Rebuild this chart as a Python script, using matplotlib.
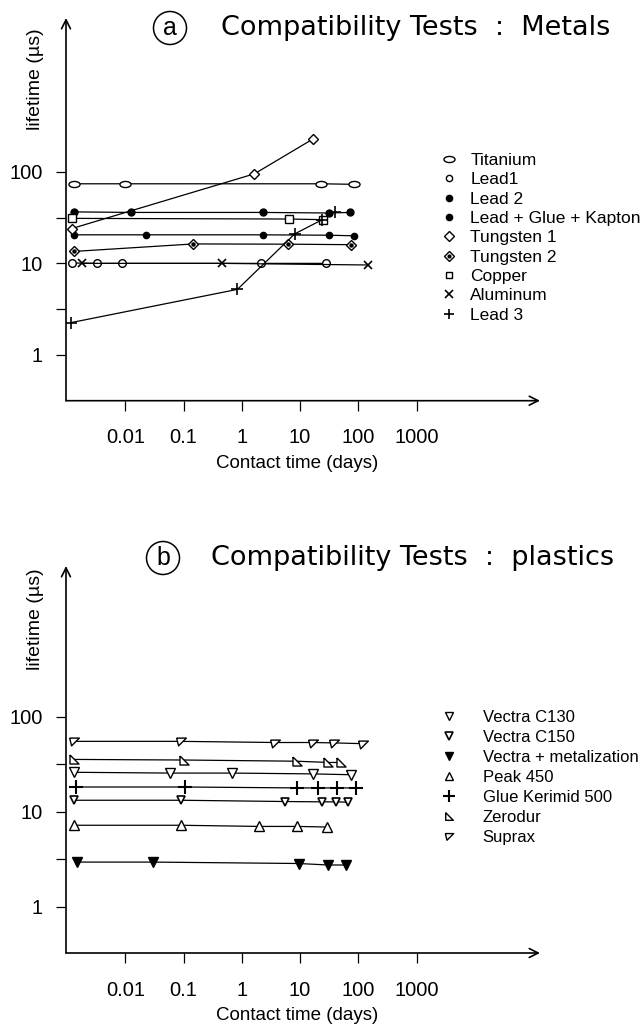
import matplotlib
matplotlib.use("Agg")
import matplotlib.pyplot as plt
from matplotlib.lines import Line2D
from matplotlib.markers import MarkerStyle
from matplotlib.transforms import Affine2D
from matplotlib.ticker import FixedLocator, NullLocator, FixedFormatter

plt.rcParams['font.family'] = ['Liberation Sans', 'DejaVu Sans']

# ---------------- data: panel (a) metals ----------------
titanium_x = [0.0013, 0.0098, 23, 85]
titanium_y = [74, 74, 74, 73]
lead1_x = [0.0012, 0.0032, 0.0088, 2.1, 28]
lead1_y = [10.1, 10, 10, 10, 10]
lead2_x = [0.0013, 0.023, 2.3, 31, 85]
lead2_y = [20.5, 20.5, 20.5, 20.3, 20]
lgk_x = [0.0013, 0.0126, 2.3, 31, 71]
lgk_y = [36.5, 36, 36, 35.5, 36]
tungsten1_x = [0.0012, 1.64, 16.6]
tungsten1_y = [24, 95, 228]
tungsten2_x = [0.0013, 0.147, 6.3, 76]
tungsten2_y = [13.5, 16.3, 16.2, 16]
copper_x = [0.0012, 6.5, 25]
copper_y = [31, 30.5, 30]
aluminum_x = [0.0018, 0.45, 145]
aluminum_y = [10, 10, 9.6]
lead3_x = [0.00115, 0.84, 8.1, 24, 40]
lead3_y = [2.25, 5.2, 21, 30, 36]

# ---------------- data: panel (b) plastics ----------------
vc130_x = [0.0013, 0.059, 0.68, 16.7, 75]
vc130_y = [26, 25.5, 25.5, 25, 24.5]
vc150_x = [0.0013, 0.091, 5.5, 24, 42, 66]
vc150_y = [13.2, 13.2, 12.8, 12.7, 12.7, 12.6]
vmet_x = [0.0015, 0.03, 9.5, 30, 62]
vmet_y = [2.95, 2.95, 2.85, 2.75, 2.75]
peak_x = [0.0013, 0.09, 2.0, 9.0, 29]
peak_y = [7.2, 7.2, 7.0, 7.0, 6.9]
glue_x = [0.0014, 0.104, 8.7, 20.6, 43, 91]
glue_y = [18.2, 18.2, 17.8, 17.8, 17.8, 17.8]
zerodur_x = [0.0013, 0.1, 8.7, 30, 51]
zerodur_y = [35.5, 35, 34, 33, 33]
suprax_x = [0.0013, 0.091, 3.7, 16.7, 38, 120]
suprax_y = [55, 55, 53.5, 53.5, 53, 52]

xtick_vals = [0.01, 0.1, 1, 10, 100, 1000]
xtick_labels = ['0.01', '0.1', '1', '10', '100', '1000']
ytick_vals = [1, 10, 100]
ytick_labels = ['1', '10', '100']
yminor_vals = [10 ** 0.5, 10 ** 1.5]

metal_labels = ['Titanium', 'Lead1', 'Lead 2', 'Lead + Glue + Kapton', 'Tungsten 1',
                'Tungsten 2', 'Copper', 'Aluminum', 'Lead 3']
plastic_labels = ['Vectra C130', 'Vectra C150', 'Vectra + metalization', 'Peak 450',
                  'Glue Kerimid 500', 'Zerodur', 'Suprax']

W, H = 641, 1028
fig = plt.figure(figsize=(W / 100, H / 100), dpi=100)

def fx(px):
    return px / W

def fy(py):
    return 1 - py / H

ax1 = fig.add_axes([fx(66), fy(400.7), 474 / W, 382.7 / H])
ax2 = fig.add_axes([fx(66), fy(953), 474 / W, 387 / H])

ellipse = MarkerStyle('o', transform=Affine2D().scale(1.45, 0.8))
zer_m = [(-1, 1), (-1, -1), (1, -1), (-1, 1)]
sup_m = [(-1, 0.7), (1, 0.7), (-0.6, -0.9), (-1, 0.7)]

lw = 0.9
k = 'black'

def style_axes(ax, ylo, yhi):
    ax.set_xscale('log')
    ax.set_yscale('log')
    ax.set_xlim(10 ** -3.02, 10 ** 5.12)
    ax.set_ylim(10 ** ylo, 10 ** yhi)
    for s in ax.spines.values():
        s.set_visible(False)
    ax.xaxis.set_major_locator(FixedLocator(xtick_vals))
    ax.xaxis.set_major_formatter(FixedFormatter(xtick_labels))
    ax.xaxis.set_minor_locator(NullLocator())
    ax.yaxis.set_major_locator(FixedLocator(ytick_vals))
    ax.yaxis.set_major_formatter(FixedFormatter(ytick_labels))
    ax.yaxis.set_minor_locator(FixedLocator(yminor_vals))
    ax.tick_params(axis='x', which='both', direction='out', length=7, width=0.9, labelsize=14.5, pad=13)
    ax.tick_params(axis='y', which='both', direction='out', length=7, width=0.9, labelsize=14.5, pad=10)
    ax.annotate('', xy=(1, 0), xytext=(0, 0), xycoords='axes fraction',
                arrowprops=dict(arrowstyle='->', lw=1.2, color=k, mutation_scale=16,
                                shrinkA=0, shrinkB=0))
    ax.annotate('', xy=(0, 1), xytext=(0, 0), xycoords='axes fraction',
                arrowprops=dict(arrowstyle='->', lw=1.2, color=k, mutation_scale=16,
                                shrinkA=0, shrinkB=0))
    ax.patch.set_visible(False)

style_axes(ax1, -0.5, 3.68)
style_axes(ax2, -0.487, 3.586)

# ---- panel (a) ----
ax1.plot(titanium_x, titanium_y, color=k, lw=lw, marker=ellipse, ms=5.5, mfc='white', mec=k, mew=1)
ax1.plot(lead1_x, lead1_y, color=k, lw=lw, marker='o', ms=5.5, mfc='white', mec=k, mew=1)
ax1.plot(lead2_x, lead2_y, color=k, lw=lw, marker='o', ms=4.5, mfc=k, mec=k)
ax1.plot(lgk_x, lgk_y, color=k, lw=lw, marker='o', ms=5, mfc=k, mec=k)
ax1.plot(tungsten1_x, tungsten1_y, color=k, lw=lw, marker='D', ms=5.5, mfc='white', mec=k, mew=1)
ax1.plot(tungsten2_x, tungsten2_y, color=k, lw=lw, marker='D', ms=5.5, mfc='white', mec=k, mew=1)
ax1.plot(tungsten2_x, tungsten2_y, ls='none', marker='o', ms=2.2, mfc=k, mec=k)
ax1.plot(copper_x, copper_y, color=k, lw=lw, marker='s', ms=5.5, mfc='white', mec=k, mew=1)
ax1.plot(aluminum_x, aluminum_y, color=k, lw=lw, marker='x', ms=6, mew=1.2)
ax1.plot(lead3_x[:4], lead3_y[:4], color=k, lw=lw)
ax1.plot(lead3_x, lead3_y, ls='none', color=k, marker='+', ms=9, mew=1.2)

h_a = [
    Line2D([], [], ls='none', color=k, marker=ellipse, ms=5.5, mfc='white', mew=1),
    Line2D([], [], ls='none', color=k, marker='o', ms=4.5, mfc='white', mew=1),
    Line2D([], [], ls='none', color=k, marker='o', ms=4.5, mfc=k),
    Line2D([], [], ls='none', color=k, marker='o', ms=4.5, mfc=k),
    Line2D([], [], ls='none', color=k, marker='D', ms=5, mfc='white', mew=1),
    (Line2D([], [], ls='none', color=k, marker='D', ms=5, mfc='white', mew=1),
     Line2D([], [], ls='none', color=k, marker='o', ms=2, mfc=k)),
    Line2D([], [], ls='none', color=k, marker='s', ms=5, mfc='white', mew=1),
    Line2D([], [], ls='none', color=k, marker='x', ms=5.5, mew=1.2),
    Line2D([], [], ls='none', color=k, marker='+', ms=7, mew=1.2),
]
ax1.legend(h_a, metal_labels, loc='upper left', bbox_to_anchor=(fx(440), fy(153)),
           bbox_transform=fig.transFigure, frameon=False, fontsize=12.5,
           handlelength=1.0, handletextpad=0.75, labelspacing=0.24,
           borderpad=0, borderaxespad=0)

# ---- panel (b) ----
ax2.plot(suprax_x, suprax_y, color=k, lw=lw, marker=sup_m, ms=7, mfc='white', mec=k, mew=1)
ax2.plot(zerodur_x, zerodur_y, color=k, lw=lw, marker=zer_m, ms=6.5, mfc='white', mec=k, mew=1)
ax2.plot(vc130_x, vc130_y, color=k, lw=lw, marker='v', ms=7, mfc='white', mec=k, mew=1)
ax2.plot(glue_x, glue_y, color=k, lw=lw, marker='+', ms=10, mew=1.5)
ax2.plot(vc150_x, vc150_y, color=k, lw=lw, marker='v', ms=6, mfc='white', mec=k, mew=1.2)
ax2.plot(peak_x, peak_y, color=k, lw=lw, marker='^', ms=6.5, mfc='white', mec=k, mew=1)
ax2.plot(vmet_x, vmet_y, color=k, lw=lw, marker='v', ms=6.5, mfc=k, mec=k)

h_b = [
    Line2D([], [], ls='none', color=k, marker='v', ms=6, mfc='white', mew=1),
    Line2D([], [], ls='none', color=k, marker='v', ms=5.5, mfc='white', mew=1.2),
    Line2D([], [], ls='none', color=k, marker='v', ms=6, mfc=k),
    Line2D([], [], ls='none', color=k, marker='^', ms=5.5, mfc='white', mew=1),
    Line2D([], [], ls='none', color=k, marker='+', ms=8, mew=1.5),
    Line2D([], [], ls='none', color=k, marker=zer_m, ms=5.5, mfc='white', mew=1),
    Line2D([], [], ls='none', color=k, marker=sup_m, ms=6, mfc='white', mew=1),
]
ax2.legend(h_b, plastic_labels, loc='upper left', bbox_to_anchor=(fx(441), fy(710)),
           bbox_transform=fig.transFigure, frameon=False, fontsize=12,
           handlelength=1.0, handletextpad=1.5, labelspacing=0.30,
           borderpad=0, borderaxespad=0)

# ---- labels and titles ----
for cy in (79, 619):
    fig.text(fx(35), fy(cy), 'lifetime (µs)', rotation=90, ha='center', va='center', fontsize=14)
for cy in (463, 1015):
    fig.text(fx(297), fy(cy), 'Contact time (days)', ha='center', va='center', fontsize=13.5)

circ = dict(boxstyle='circle,pad=0.18', fc='none', ec=k, lw=1.1)
fig.text(fx(170), fy(28), 'a', ha='center', va='center', fontsize=18, bbox=circ)
fig.text(fx(163), fy(558), 'b', ha='center', va='center', fontsize=18, bbox=circ)
fig.text(fx(221), fy(28), 'Compatibility Tests  :  Metals', ha='left', va='center',
         fontsize=19.5, family='DejaVu Sans')
fig.text(fx(211), fy(558), 'Compatibility Tests  :  plastics', ha='left', va='center',
         fontsize=19.5, family='DejaVu Sans')

fig.savefig('out.png', dpi=100)
